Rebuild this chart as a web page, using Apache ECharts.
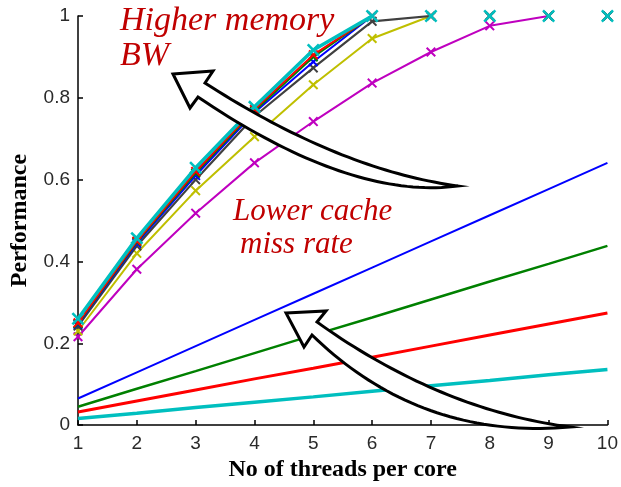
<!DOCTYPE html>
<html>
<head>
<meta charset="utf-8">
<script src="https://cdn.jsdelivr.net/npm/echarts@6/dist/echarts.min.js"></script>
<style>
  html, body { margin: 0; padding: 0; background: #ffffff; }
  #chart { width: 621px; height: 487px; }
</style>
</head>
<body>
<div id="chart"></div>
<script>
// Threads per core (x axis)
const threads = [1, 2, 3, 4, 5, 6, 7, 8, 9, 10];
const xTicks = [1, 2, 3, 4, 5, 6, 7, 8, 9, 10];
const yTicks = [0, 0.2, 0.4, 0.6, 0.8, 1];

// Bandwidth-bound curves (with markers), performance per thread count
const bwCyan    = [0.260, 0.457, 0.629, 0.778, 0.917, 1.000, 1.000, 1.000, 1.000, 1.000];
const bwRed     = [0.250, 0.450, 0.620, 0.772, 0.905, 1.000, 1.000, 1.000, 1.000, 1.000];
const bwGreen   = [0.248, 0.448, 0.616, 0.768, 0.900, 1.000, 1.000, 1.000, 1.000, 1.000];
const bwBlue    = [0.246, 0.444, 0.610, 0.764, 0.888, 1.000, 1.000, 1.000, 1.000, 1.000];
const bwGray    = [0.242, 0.438, 0.600, 0.755, 0.873, 0.987, 1.000, 1.000, 1.000, 1.000];
const bwYellow  = [0.230, 0.420, 0.573, 0.705, 0.832, 0.945, 1.000, 1.000, 1.000, 1.000];
const bwMagenta = [0.216, 0.381, 0.518, 0.641, 0.742, 0.836, 0.912, 0.976, 1.000, 1.000];

// Cache-miss-bound curves (straight lines, no markers)
const missBlue  = [0.065, 0.129, 0.193, 0.257, 0.321, 0.385, 0.449, 0.513, 0.577, 0.641];
const missGreen = [0.045, 0.089, 0.132, 0.176, 0.220, 0.263, 0.307, 0.351, 0.394, 0.438];
const missRed   = [0.032, 0.059, 0.086, 0.113, 0.139, 0.166, 0.193, 0.220, 0.247, 0.274];
const missCyan  = [0.016, 0.029, 0.043, 0.056, 0.069, 0.083, 0.096, 0.109, 0.123, 0.136];

// "x" shaped marker outline
const xMark = 'path://M0,1.4L1.4,0L5,3.6L8.6,0L10,1.4L6.4,5L10,8.6L8.6,10L5,6.4L1.4,10L0,8.6L3.6,5Z';

function pairs(vals) { return vals.map((v, i) => [threads[i], v]); }

// The line is drawn up to the first point that reaches 1; the rest sit on the top edge.
function untilSaturated(vals) {
  const k = vals.indexOf(1);
  return pairs(k < 0 ? vals : vals.slice(0, k + 1));
}

const series = [];

function addMiss(vals, color, width) {
  series.push({
    type: 'line', data: pairs(vals), showSymbol: false, silent: true,
    lineStyle: { color: color, width: width }, z: 2
  });
}
addMiss(missBlue, '#0000ff', 2);
addMiss(missGreen, '#008000', 2.5);
addMiss(missRed, '#ff0000', 3);
addMiss(missCyan, '#00bfbf', 3.5);

function addBw(vals, color, width, size, z) {
  series.push({
    type: 'line', data: untilSaturated(vals), showSymbol: false, silent: true,
    lineStyle: { color: color, width: width }, z: z
  });
  series.push({
    type: 'scatter', data: pairs(vals), symbol: xMark, symbolSize: size, silent: true,
    itemStyle: { color: color, opacity: 1 }, z: z, clip: false
  });
}
addBw(bwMagenta, '#bf00bf', 2, 10, 3);
addBw(bwYellow, '#bfbf00', 2, 10, 4);
addBw(bwGray, '#404040', 2.2, 10, 5);
addBw(bwBlue, '#0000ff', 2, 10, 6);
addBw(bwGreen, '#008000', 2, 10, 7);
addBw(bwRed, '#ff0000', 2, 10, 8);
addBw(bwCyan, '#00bfbf', 3.5, 13, 9);

const tickFont = { fontFamily: 'Liberation Sans', fontSize: 19, color: '#2a2a2a' };
const titleFont = { fontFamily: 'Liberation Serif', fontWeight: 'bold', fontSize: 24, color: '#000000' };
const noteFont = 'italic 34px "Liberation Serif"';
const noteFont2 = 'italic 31px "Liberation Serif"';

// Hollow curved arrow outline: tip, two barbs, and a shaft made of two
// quadratic curves meeting at the tail.
function quad(p0, c, p1, n) {
  const pts = [];
  for (let i = 0; i <= n; i++) {
    const t = i / n, u = 1 - t;
    pts.push([u * u * p0[0] + 2 * u * t * c[0] + t * t * p1[0],
              u * u * p0[1] + 2 * u * t * c[1] + t * t * p1[1]]);
  }
  return pts;
}
function arrowOutline(a) {
  return [a.tip, a.barb1, a.base1]
    .concat(quad(a.base1, a.c1, a.tail, 40).slice(1))
    .concat(quad(a.tail, a.c2, a.base2, 40).slice(1))
    .concat([a.barb2]);
}
const arrowUpper = arrowOutline({
  tip: [173, 74], barb1: [213, 71], base1: [205, 83], c1: [340, 170],
  tail: [458, 186], c2: [350, 200], base2: [198, 97], barb2: [190, 108]
});
const arrowLower = arrowOutline({
  tip: [286, 313], barb1: [326, 311], base1: [317, 322], c1: [440, 410],
  tail: [570, 427], c2: [420, 440], base2: [312, 335], barb2: [304, 347]
});
const arrowStyle = { fill: '#ffffff', stroke: '#000000', lineWidth: 3, lineJoin: 'miter' };

const chart = echarts.init(document.getElementById('chart'), null, { renderer: 'canvas' });
chart.setOption({
  animation: false,
  backgroundColor: '#ffffff',
  grid: { left: 78, right: 9, top: 16, bottom: 61, containLabel: false },
  xAxis: {
    type: 'value', min: xTicks[0], max: xTicks[xTicks.length - 1], interval: 1,
    name: 'No of threads per core', nameLocation: 'middle', nameGap: 24,
    nameTextStyle: titleFont,
    axisLine: { show: true, lineStyle: { color: '#000000', width: 1.5 } },
    axisTick: { show: true, inside: true, length: 5, lineStyle: { color: '#000000', width: 1.5 } },
    axisLabel: Object.assign({ margin: 9 }, tickFont),
    splitLine: { show: false }
  },
  yAxis: {
    type: 'value', min: yTicks[0], max: yTicks[yTicks.length - 1], interval: 0.2,
    name: 'Performance', nameLocation: 'middle', nameGap: 46,
    nameTextStyle: titleFont,
    axisLine: { show: true, lineStyle: { color: '#000000', width: 1.5 } },
    axisTick: { show: true, inside: true, length: 5, lineStyle: { color: '#000000', width: 1.5 } },
    axisLabel: Object.assign({ margin: 8 }, tickFont),
    splitLine: { show: false }
  },
  series: series,
  graphic: [
    { type: 'polygon', z: 50, shape: { points: arrowUpper }, style: arrowStyle },
    { type: 'polygon', z: 50, shape: { points: arrowLower }, style: arrowStyle },
    { type: 'text', z: 60, x: 120, y: 4,
      style: { text: 'Higher memory\nBW', font: noteFont, fill: '#c00000', lineHeight: 35 } },
    { type: 'text', z: 60, x: 233, y: 196,
      style: { text: 'Lower cache', font: noteFont2, fill: '#c00000' } },
    { type: 'text', z: 60, x: 240, y: 229,
      style: { text: 'miss rate', font: noteFont2, fill: '#c00000' } }
  ]
});
</script>
</body>
</html>
